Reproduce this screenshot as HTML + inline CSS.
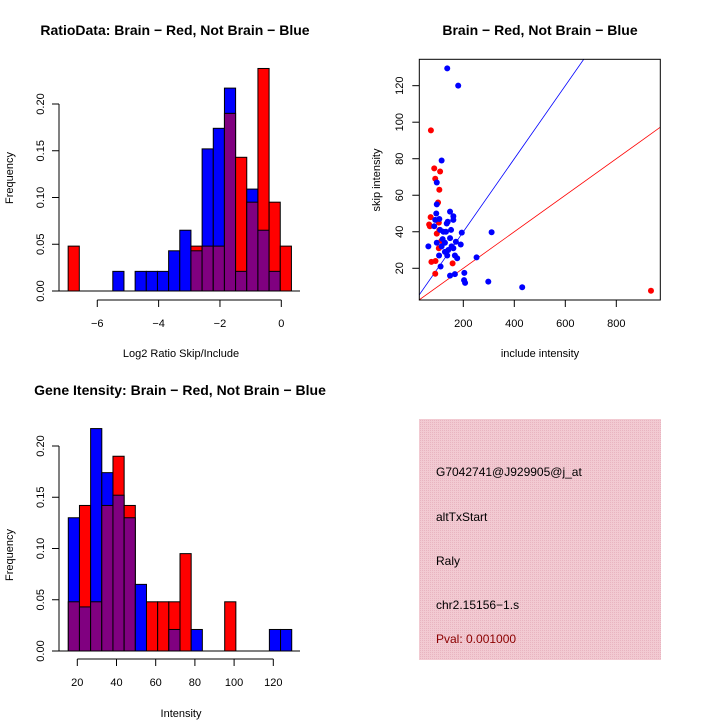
<!DOCTYPE html>
<html><head><meta charset="utf-8"><style>
html,body{margin:0;padding:0;background:#fff;}
svg{display:block;font-family:"Liberation Sans",sans-serif;}
</style></head><body>
<svg id="c" width="720" height="720" xmlns="http://www.w3.org/2000/svg">
<defs>
<pattern id="pk" width="2" height="2" patternUnits="userSpaceOnUse"><rect width="2" height="2" fill="#f2cad2"/><rect width="1" height="1" fill="#e8b4c0"/></pattern>
</defs>
</svg>
<script>
// ratio histogram data (20 bins)
const ratioBinStart = -6.95;
const ratioBinWidth = 0.364;
const ratioRed  = [0.048,0,0,0,0,0,0,0,0,0,0,0.048,0.048,0.048,0.190,0.143,0.095,0.238,0.095,0.048];
const ratioBlue = [0,0,0,0,0.021,0,0.021,0.021,0.021,0.043,0.065,0.043,0.152,0.174,0.217,0.021,0.109,0.065,0.021,0];
const ratioXTicks = [-6,-4,-2,0];
const freqTicks = ["0.00","0.05","0.10","0.15","0.20"];
// intensity histogram data
const intBinStart = 15.4;
const intBinWidth = 5.7;
const intRed  = [0.048,0.142,0.048,0.142,0.190,0.142,0,0.048,0.048,0.048,0.095,0,0,0,0.048,0,0,0,0,0];
const intBlue = [0.130,0.043,0.217,0.174,0.152,0.130,0.065,0,0,0.021,0,0.021,0,0,0,0,0,0,0.021,0.021];
const intXTicks = [20,40,60,80,100,120];
// scatter data
const blueX = [137,180,115,96,96,94,90,106,86,148,161,161,139,135,132,152,194,311,63,96,115,122,128,148,171,190,161,141,128,137,105,167,176,252,111,148,167,204,203,207,298,431,109,119,154];
const blueY = [129.5,120,79,67,55,50,46.5,47,43,51,48.5,46.5,45.5,44.5,40,41,39.5,39.7,32,34,32,40,34,36.5,34.5,33,31,30,29,27,27,27,25.5,26,21,16,16.8,17.5,13.5,12,12.7,9.6,41,36,32];
const redX = [73,86,109,90,106,101,72,66,69,104,106,96,114,104,75,91,90,158,936];
const redY = [95.5,74.7,73,69,63,56,48,44,43,45,41,39,35,31,23.5,24,17,22.7,7.7];
const scXTicks = [200,400,600,800];
const scYTicks = [20,40,60,80,100,120];
const blueSlope = 0.2, redSlope = 0.1;

const svg = document.getElementById('c');
const NS = 'http://www.w3.org/2000/svg';
function mk(tag, attrs, parent){const e=document.createElementNS(NS,tag);for(const k in attrs)e.setAttribute(k,attrs[k]);(parent||svg).appendChild(e);return e;}
function txt(s, x, y, size, opts){opts=opts||{};const t=mk('text',{x:x,y:y,'font-size':size,'text-anchor':opts.anchor||'middle',fill:opts.fill||'#000'});if(opts.bold)t.setAttribute('font-weight','bold');if(opts.rot)t.setAttribute('transform','rotate(-90 '+x+' '+y+')');t.textContent=s;return t;}

function hist(g, start, width, red, blue, xScale, yScale){
  for(let i=0;i<red.length;i++){
    const x0=xScale(start+i*width), x1=xScale(start+(i+1)*width);
    const r=red[i], b=blue[i];
    const hi=Math.max(r,b), lo=Math.min(r,b);
    if(hi>0){
      const bar=mk('rect',{x:x0,y:yScale(hi),width:x1-x0,height:yScale(0)-yScale(hi),fill:r>b?'#ff0000':'#0000ff',stroke:'#000','stroke-width':1},g);
      
      
    }
    if(lo>0){
      const ov=mk('rect',{x:x0,y:yScale(lo),width:x1-x0,height:yScale(0)-yScale(lo),fill:'#800080',stroke:'#000','stroke-width':1},g);
      
      
    }
  }
}

// ---- top-left histogram
(function(){
  const g=mk('g',{});
  
  
  const xs=v=>281.3+v*30.67, ys=v=>291-v*935;
  hist(g,ratioBinStart,ratioBinWidth,ratioRed,ratioBlue,xs,ys);
  mk('line',{x1:59,y1:ys(0),x2:300,y2:ys(0),stroke:'#000'},g);
  mk('line',{x1:59,y1:ys(0),x2:59,y2:ys(0.2),stroke:'#000'},g);
  freqTicks.forEach(t=>{const y=ys(+t);mk('line',{x1:52,y1:y,x2:59,y2:y,stroke:'#000'},g);txt(t,44,y,11,{rot:1});});
  mk('line',{x1:xs(-6),y1:300,x2:xs(0),y2:300,stroke:'#000'},g);
  ratioXTicks.forEach(t=>{mk('line',{x1:xs(t),y1:300,x2:xs(t),y2:307,stroke:'#000'},g);txt(t<0?'\u2212'+(-t):String(t),xs(t),327,11);});
  txt('RatioData: Brain \u2212 Red, Not Brain \u2212 Blue',175,35,14,{bold:1});
  txt('Log2 Ratio Skip/Include',181,357,11);
  txt('Frequency',13,178,11,{rot:1});
})();

// ---- bottom-left histogram
(function(){
  const g=mk('g',{});
  
  
  const xs=v=>77.3+(v-20)*1.96, ys=v=>651-v*1025;
  hist(g,intBinStart,intBinWidth,intRed,intBlue,xs,ys);
  mk('line',{x1:59,y1:ys(0),x2:300,y2:ys(0),stroke:'#000'},g);
  mk('line',{x1:59,y1:ys(0),x2:59,y2:ys(0.2),stroke:'#000'},g);
  freqTicks.forEach(t=>{const y=ys(+t);mk('line',{x1:52,y1:y,x2:59,y2:y,stroke:'#000'},g);txt(t,44,y,11,{rot:1});});
  mk('line',{x1:xs(20),y1:659,x2:xs(120),y2:659,stroke:'#000'},g);
  intXTicks.forEach(t=>{mk('line',{x1:xs(t),y1:659,x2:xs(t),y2:666,stroke:'#000'},g);txt(String(t),xs(t),686,11);});
  txt('Gene Itensity: Brain \u2212 Red, Not Brain \u2212 Blue',180,395,14,{bold:1});
  txt('Intensity',181,717,11);
  txt('Frequency',13,555,11,{rot:1});
})();

// ---- scatter
(function(){
  const g=mk('g',{});
  
  
  const xs=v=>412.3+v*0.255, ys=v=>304.8-v*1.826;
  const L=419.3,R=660.3,T=59.3,B=300;
  const cp=mk('clipPath',{id:'sc'},g);mk('rect',{x:L,y:T,width:R-L,height:B-T},cp);
  const lg=mk('g',{'clip-path':'url(#sc)'},g);
  const bl=mk('line',{x1:xs(0),y1:ys(0),x2:xs(1000),y2:ys(1000*blueSlope),stroke:'#0000ff','stroke-width':0.8},lg);
  
  
  const rl=mk('line',{x1:xs(0),y1:ys(0),x2:xs(1000),y2:ys(1000*redSlope),stroke:'#ff0000','stroke-width':0.8},lg);
  
  
  redX.forEach((x,i)=>{const c=mk('circle',{cx:xs(x),cy:ys(redY[i]),r:3,fill:'#ff0000'},g);
    
    });
  blueX.forEach((x,i)=>{const c=mk('circle',{cx:xs(x),cy:ys(blueY[i]),r:3,fill:'#0000ff'},g);
    
    });
  mk('rect',{x:L,y:T,width:R-L,height:B-T,fill:'none',stroke:'#000'},g);
  mk('line',{x1:xs(200),y1:B,x2:xs(800),y2:B,stroke:'#000'},g);
  scXTicks.forEach(t=>{mk('line',{x1:xs(t),y1:B,x2:xs(t),y2:B+7,stroke:'#000'},g);txt(String(t),xs(t),327,11);});
  scYTicks.forEach(t=>{mk('line',{x1:L-7,y1:ys(t),x2:L,y2:ys(t),stroke:'#000'},g);txt(String(t),403,ys(t),11,{rot:1});});
  txt('Brain \u2212 Red, Not Brain \u2212 Blue',540,35,14,{bold:1});
  txt('include intensity',540,357,11);
  txt('skip intensity',380,180,11,{rot:1});
})();

// ---- info box
(function(){
  const g=mk('g',{});
  
  
  mk('rect',{x:419,y:419,width:242,height:241,fill:'url(#pk)'},g);
  const lines=[['G7042741@J929905@j_at',476,'#000'],['altTxStart',521,'#000'],['Raly',565,'#000'],['chr2.15156\u22121.s',609,'#000'],['Pval: 0.001000',643,'#8b0000']];
  lines.forEach(l=>{const t=txt(l[0],436,l[1],12,{anchor:'start',fill:l[2]});
    
    });
})();
</script>
</body></html>
